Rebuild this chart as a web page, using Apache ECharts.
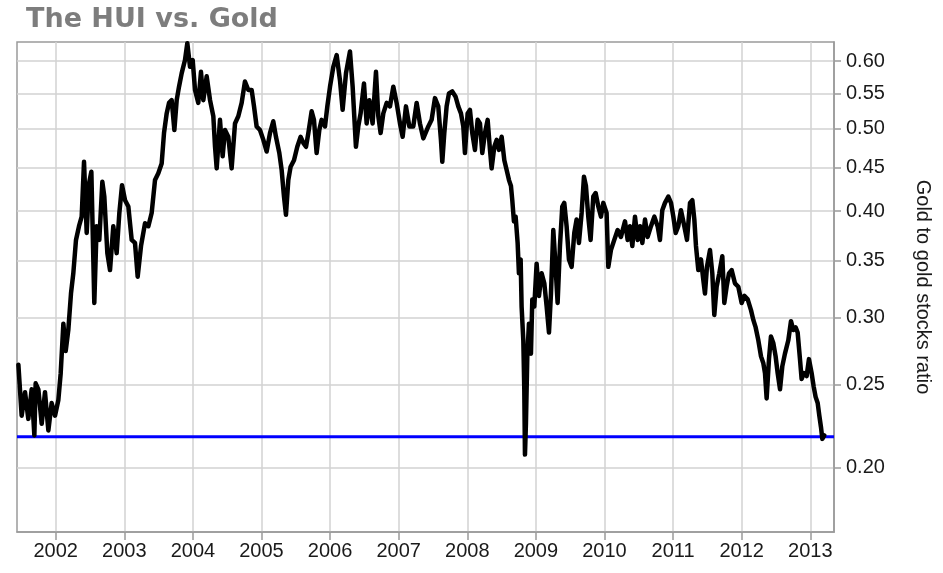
<!DOCTYPE html>
<html><head><meta charset="utf-8">
<script src="https://cdn.jsdelivr.net/npm/echarts@6/dist/echarts.min.js"></script>
<style>html,body{margin:0;padding:0;background:#fff}#c{width:943px;height:573px}</style>
</head><body><div id="c"></div>
<script>
// decimal years of each reading
const years = [
2001.456,2001.504,2001.553,2001.601,2001.650,2001.689,2001.708,2001.747,2001.796,2001.844,2001.893,2001.941,2001.990,
2002.039,2002.073,2002.112,2002.146,2002.184,2002.223,2002.257,2002.296,2002.340,2002.379,2002.413,2002.452,2002.486,2002.520,
2002.563,2002.597,2002.636,2002.680,2002.709,2002.753,2002.792,2002.840,2002.889,2002.928,2002.967,
2003.011,2003.059,2003.108,2003.156,2003.195,2003.244,2003.302,2003.351,2003.399,2003.448,2003.496,2003.545,2003.579,2003.618,
2003.652,2003.691,2003.730,2003.764,2003.798,2003.837,2003.885,2003.919,2003.958,2003.997,
2004.031,2004.079,2004.118,2004.152,2004.201,2004.250,2004.298,2004.323,2004.347,2004.395,2004.434,2004.468,2004.516,2004.565,
2004.614,2004.662,2004.711,2004.759,2004.808,2004.857,2004.891,2004.929,2004.978,
2005.027,2005.075,2005.124,2005.172,2005.211,2005.260,2005.294,2005.328,2005.357,2005.391,2005.425,2005.474,2005.522,2005.571,
2005.610,2005.649,2005.683,2005.731,2005.765,2005.804,2005.843,2005.877,2005.926,2005.960,2005.999,
2006.047,2006.096,2006.144,2006.183,2006.232,2006.290,2006.329,2006.377,2006.411,2006.445,2006.494,2006.533,2006.572,2006.620,
2006.669,2006.703,2006.737,2006.776,2006.825,2006.873,2006.922,2006.970,
2007.019,2007.058,2007.106,2007.155,2007.213,2007.262,2007.310,2007.359,2007.432,2007.480,2007.529,2007.577,2007.616,2007.636,
2007.665,2007.699,2007.733,2007.781,2007.830,2007.869,2007.908,2007.942,2007.966,
2008.005,2008.039,2008.073,2008.112,2008.151,2008.185,2008.219,2008.258,2008.297,2008.331,2008.355,2008.394,2008.428,2008.462,
2008.501,2008.540,2008.574,2008.608,2008.637,2008.656,2008.680,2008.705,2008.734,2008.753,2008.778,2008.792,2008.817,2008.831,
2008.841,2008.855,2008.875,2008.899,2008.928,2008.948,2008.977,
2009.011,2009.045,2009.084,2009.123,2009.157,2009.191,2009.220,2009.254,2009.278,2009.317,2009.351,2009.385,2009.414,2009.448,
2009.482,2009.521,2009.560,2009.594,2009.628,2009.667,2009.701,2009.730,2009.764,2009.798,2009.837,2009.871,2009.910,2009.949,2009.983,
2010.031,2010.056,2010.094,2010.143,2010.192,2010.240,2010.299,2010.338,2010.372,2010.406,2010.445,2010.484,2010.518,2010.552,
2010.591,2010.629,2010.678,2010.727,2010.775,2010.809,2010.843,2010.882,2010.931,2010.970,
2011.004,2011.038,2011.076,2011.115,2011.164,2011.203,2011.247,2011.281,2011.310,2011.334,2011.368,2011.407,2011.441,2011.465,
2011.494,2011.538,2011.572,2011.601,2011.635,2011.674,2011.718,2011.747,2011.781,2011.815,2011.854,2011.902,2011.951,
2012.000,2012.039,2012.088,2012.136,2012.170,2012.204,2012.243,2012.282,2012.316,2012.340,2012.364,2012.398,2012.427,2012.461,
2012.495,2012.525,2012.559,2012.593,2012.631,2012.680,2012.719,2012.753,2012.787,2012.816,2012.850,2012.874,2012.908,2012.947,2012.981,
2013.020,2013.049,2013.078,2013.108,2013.132,2013.156,2013.176,2013.205
];
// gold stocks to gold ratio read at each of those dates
const ratio = [
0.264,0.230,0.245,0.228,0.247,0.218,0.251,0.247,0.225,0.245,0.221,0.238,0.230,
0.240,0.258,0.295,0.274,0.290,0.320,0.338,0.370,0.384,0.394,0.457,0.377,0.431,0.445,
0.312,0.384,0.370,0.433,0.416,0.357,0.341,0.384,0.357,0.398,0.429,
0.412,0.405,0.370,0.367,0.335,0.364,0.387,0.384,0.398,0.435,0.443,0.455,0.494,0.521,
0.536,0.540,0.498,0.540,0.560,0.581,0.602,0.630,0.591,0.602,
0.555,0.536,0.583,0.540,0.576,0.540,0.517,0.476,0.449,0.512,0.464,0.498,0.489,0.449,
0.507,0.517,0.536,0.568,0.555,0.555,0.531,0.503,0.498,
0.485,0.470,0.494,0.510,0.489,0.468,0.447,0.416,0.396,0.435,0.451,0.459,0.476,0.489,
0.481,0.476,0.494,0.524,0.512,0.468,0.498,0.512,0.503,0.531,0.560,
0.591,0.610,0.570,0.526,0.581,0.616,0.560,0.476,0.503,0.521,0.565,0.507,0.540,0.507,
0.583,0.517,0.494,0.521,0.536,0.531,0.560,0.536,
0.507,0.489,0.531,0.503,0.503,0.536,0.507,0.487,0.503,0.512,0.543,0.531,0.485,0.457,
0.494,0.531,0.550,0.553,0.545,0.531,0.521,0.503,0.468,
0.521,0.526,0.494,0.472,0.512,0.507,0.468,0.494,0.512,0.472,0.449,0.476,0.485,0.472,
0.489,0.459,0.447,0.435,0.428,0.412,0.389,0.394,0.367,0.338,0.351,0.309,0.282,0.247,
0.207,0.225,0.270,0.295,0.272,0.315,0.309,
0.347,0.318,0.338,0.329,0.309,0.288,0.320,0.380,0.354,0.312,0.364,0.405,0.409,0.384,
0.351,0.344,0.377,0.391,0.367,0.398,0.439,0.428,0.394,0.370,0.416,0.420,0.405,0.394,0.409,
0.398,0.344,0.360,0.370,0.380,0.373,0.389,0.370,0.384,0.364,0.394,0.370,0.384,0.367,
0.391,0.373,0.384,0.394,0.384,0.370,0.401,0.409,0.416,0.409,
0.394,0.377,0.384,0.401,0.384,0.370,0.409,0.412,0.391,0.364,0.341,0.351,0.332,0.320,
0.344,0.360,0.338,0.302,0.326,0.338,0.354,0.312,0.326,0.338,0.341,0.329,0.326,
0.312,0.318,0.315,0.306,0.298,0.292,0.282,0.270,0.265,0.258,0.241,0.268,0.285,0.280,
0.270,0.258,0.247,0.263,0.272,0.282,0.297,0.290,0.292,0.288,0.268,0.254,0.258,0.256,0.268,
0.258,0.249,0.242,0.238,0.230,0.223,0.216,0.218
];
const yearTicks = [2002,2003,2004,2005,2006,2007,2008,2009,2010,2011,2012,2013];
const ratioTicks = [0.20,0.25,0.30,0.35,0.40,0.45,0.50,0.55,0.60];
const supportLevel = 0.2173;
const xRange = [2001.436, 2013.346];
const yRange = [0.1679, 0.632];

const chart = echarts.init(document.getElementById('c'), null, {renderer:'canvas'});
const font = 'Liberation Sans, Arial, sans-serif';
const lineData = years.map((y,i)=>[y, Math.log(ratio[i])]);
const levelData = [[xRange[0], Math.log(supportLevel)], [xRange[1], Math.log(supportLevel)]];

chart.setOption({
  animation:false,
  backgroundColor:'#ffffff',
  title:{
    text:'The HUI vs. Gold', left:21, top:1,
    textStyle:{fontFamily:'DejaVu Sans, Verdana, sans-serif', fontWeight:'bold', fontSize:27, color:'#7d7d7d'}
  },
  grid:{left:17, right:109, top:42, bottom:41, show:true, borderColor:'#9a9a9a', borderWidth:1.5, containLabel:false},
  xAxis:{
    type:'value', min:xRange[0], max:xRange[1],
    axisLine:{show:true, lineStyle:{color:'#9a9a9a', width:1.5}},
    axisTick:{show:true, length:8, customValues:yearTicks, lineStyle:{color:'#9a9a9a', width:1.5}},
    axisLabel:{customValues:yearTicks, formatter:v=>String(Math.round(v)), fontFamily:font, fontSize:20, color:'#1a1a1a', margin:9},
    splitLine:{show:true, lineStyle:{color:'#d2d2d2', width:1.5}}
  },
  yAxis:{
    type:'value', position:'right', min:Math.log(yRange[0]), max:Math.log(yRange[1]),
    name:'Gold to gold stocks ratio', nameLocation:'middle', nameRotate:-90, nameGap:79,
    nameTextStyle:{fontFamily:font, fontSize:20, color:'#1a1a1a'},
    axisLine:{show:true, lineStyle:{color:'#9a9a9a', width:1.5}},
    axisTick:{show:true, length:7, customValues:ratioTicks.map(Math.log), lineStyle:{color:'#9a9a9a', width:1.5}},
    axisLabel:{customValues:ratioTicks.map(Math.log), formatter:v=>Math.exp(v).toFixed(2), fontFamily:font, fontSize:20, color:'#1a1a1a', margin:12},
    splitLine:{show:true, lineStyle:{color:'#d2d2d2', width:1.5}}
  },
  series:[
    {type:'line', data:levelData, symbol:'none', z:2, silent:true,
     lineStyle:{color:'#0000ff', width:3}},
    {type:'line', data:lineData, symbol:'none', z:3, silent:true,
     lineStyle:{color:'#000000', width:4.5, join:'round', cap:'round'}}
  ]
});
</script>
</body></html>
